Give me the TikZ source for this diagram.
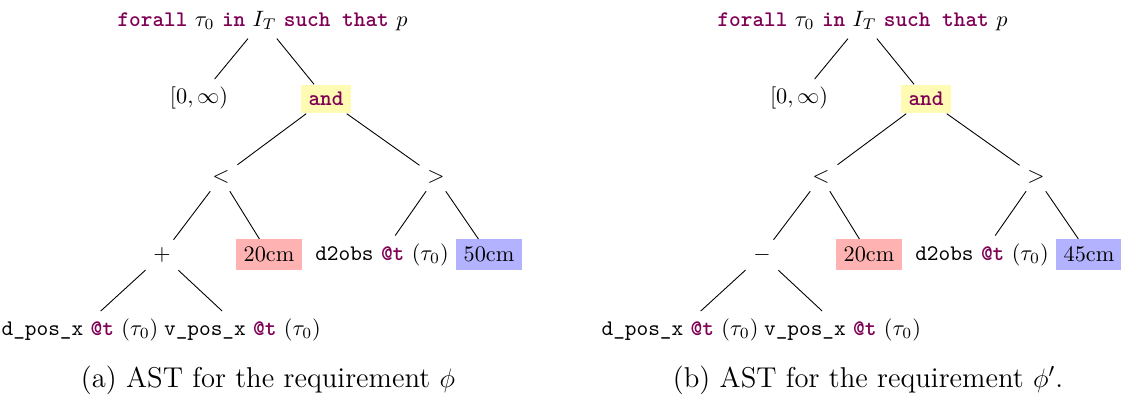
\documentclass[tikz,border=0pt]{standalone}
\usepackage{xcolor}
\definecolor{kwc}{RGB}{127,0,85}
\newcommand{\kw}[1]{{\ttfamily\bfseries\color{kwc}#1}}
\tikzset{
  tnode/.style={inner sep=3.33pt},
  ybox/.style={tnode,fill=yellow!30},
  rbox/.style={tnode,fill=red!30},
  bbox/.style={tnode,fill=blue!30},
  edge/.style={draw=black,line width=0.4pt},
  capt/.style={inner sep=0pt,font=\fontsize{12.9}{15}\selectfont}
}
\begin{document}
\begin{tikzpicture}[x=0.45pt,y=-0.45pt]
\useasboundingbox (0,0) rectangle (1121,396);
\foreach \s/\off/\op/\val in {a/0/$+$/50cm,b/600/$-$/45cm}{
  \begin{scope}[xshift=\off*0.45pt]
  \node[tnode] (root\s) at (262.5,21) {\kw{forall} $\tau_0$ \kw{in} $I_T$ \kw{such that} $p$};
  \node[tnode] (inf\s) at (199,98) {$[0,\infty)$};
  \node[ybox] (and\s) at (326,99) {\kw{and}};
  \node[tnode] (lt\s) at (221,177) {$<$};
  \node[tnode] (gt\s) at (436,177) {$>$};
  \node[tnode] (op\s) at (162,255) {\op};
  \node[rbox] (ca\s) at (269,254.5) {20cm};
  \node[tnode] (dd\s) at (382,254.5) {\texttt{d2obs} \kw{@t} $(\tau_0)$};
  \node[bbox] (cb\s) at (489,254.5) {\val};
  \node[tnode] (dp\s) at (80,330) {\texttt{d\_pos\_x} \kw{@t} $(\tau_0)$};
  \node[tnode] (vp\s) at (242.5,330) {\texttt{v\_pos\_x} \kw{@t} $(\tau_0)$};
  \draw[edge] (root\s) -- (inf\s);
  \draw[edge] (root\s) -- (and\s);
  \draw[edge] (and\s) -- (lt\s);
  \draw[edge] (and\s) -- (gt\s);
  \draw[edge] (lt\s) -- (op\s);
  \draw[edge] (lt\s) -- (ca\s);
  \draw[edge] (gt\s) -- (dd\s);
  \draw[edge] (gt\s) -- (cb\s);
  \draw[edge] (op\s) -- (dp\s);
  \draw[edge] (op\s) -- (vp\s);
  \end{scope}
}
\node[capt] (capa) at (268,380) {(a) AST for the requirement $\phi$};
\node[capt] (capb) at (868,380) {(b) AST for the requirement $\phi'$.};
\end{tikzpicture}
\end{document}
